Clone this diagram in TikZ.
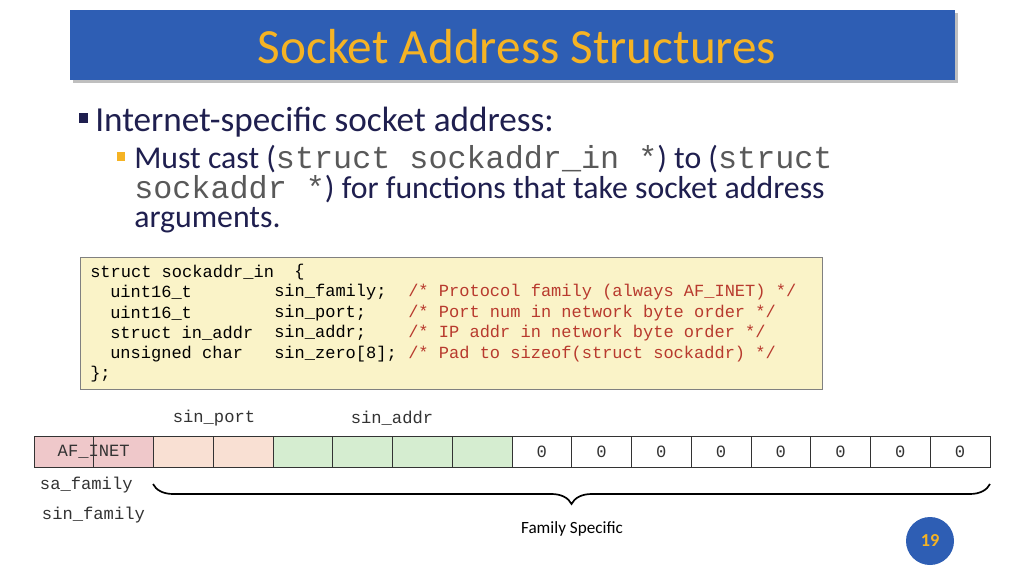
\documentclass[tikz,border=0pt]{standalone}
\usepackage{fontspec}
\setmainfont{Carlito}
\setmonofont{Liberation Mono}
\usepackage{tikz}
\usetikzlibrary{positioning, decorations.pathreplacing}
\definecolor{barblue}{HTML}{2E5EB4}
\definecolor{titleorange}{HTML}{F5B324}
\definecolor{textnavy}{HTML}{1F1F4F}
\definecolor{codebg}{HTML}{FAF3C8}
\definecolor{codered}{HTML}{B83A2E}
\definecolor{famcol}{HTML}{EFC8CA}
\definecolor{portcol}{HTML}{F9E0D3}
\definecolor{addrcol}{HTML}{D5EDD0}
\tikzset{
  cell/.style={draw=black!80, minimum width=59.75*0.025cm, minimum height=31*0.025cm, inner sep=0pt, outer sep=0pt},
  codeline/.style={anchor=west, font=\fontsize{12.1}{14}\ttfamily, inner sep=0pt},
  comment/.style={codeline, text=codered},
  lbl/.style={font=\fontsize{12.2}{14}\ttfamily, text=black!80}
}
\begin{document}
\begin{tikzpicture}[x=0.025cm, y=-0.025cm]
  \useasboundingbox[fill=white] (0,0) rectangle (1024,576);
  % title bar
  \fill[black!25] (73,13) rectangle (958,83);
  \fill[barblue] (70,10) rectangle (955,80);
  \node[text=titleorange, font=\fontsize{35}{38}\selectfont] (title) at (517,47) {Socket Address Structures};
  % bullets
  \fill[textnavy] (79,113) rectangle (88,123);
  \node[anchor=west, inner sep=0pt, text=textnavy, font=\fontsize{25}{28}\selectfont] (b1) at (95,122) {Internet-specific socket address:};
  \fill[titleorange] (117,152) rectangle (125,161);
  \node[anchor=west, inner sep=0pt, text=textnavy, font=\fontsize{22.6}{25}\selectfont] (b2) at (134,159)
    {Must cast (\textcolor{black!65}{\texttt{struct sockaddr\_in *}}) to (\textcolor{black!65}{\texttt{struct}}};
  \node[anchor=west, inner sep=0pt, text=textnavy, font=\fontsize{22.6}{25}\selectfont] (b3) at (134,189)
    {\textcolor{black!65}{\texttt{sockaddr *}}) for functions that take socket address};
  \node[anchor=west, inner sep=0pt, text=textnavy, font=\fontsize{22.6}{25}\selectfont] (b4) at (134,220) {arguments.};
  % code box
  \draw[fill=codebg, draw=black!50] (80,257) rectangle (822,389);
  \node[codeline] (c1) at (90,272) {struct sockaddr\_in};
  \node[codeline] (c1b) at (294,272) {\{};
  \foreach \y/\ty/\nm/\cm [count=\k] in {
      292/uint16\_t/sin\_family;/Protocol family (always AF\_INET),
      313/uint16\_t/sin\_port;/Port num in network byte order,
      333/struct in\_addr/sin\_addr;/IP addr in network byte order,
      354/unsigned char/sin\_zero[8];/Pad to sizeof(struct sockaddr)} {
    \node[codeline] (t\k) at (110,\y) {\ty};
    \node[codeline] (n\k) at (274,\y) {\nm};
    \node[comment] (m\k) at (408,\y) {/* \cm\ */};
  }
  \node[codeline] (c6) at (90,374) {\};};
  % byte row
  \foreach \i in {0,...,15} {
    \pgfmathsetmacro{\cx}{34+59.75*\i+29.875}
    \ifnum\i<2 \def\cc{famcol}\else\ifnum\i<4 \def\cc{portcol}\else\ifnum\i<8 \def\cc{addrcol}\else\def\cc{white}\fi\fi\fi
    \node[cell, fill=\cc] (byte\i) at (\cx,451.5) {};
    \ifnum\i>7 \node[lbl] at (byte\i) {0}; \fi
  }
  \node[lbl] (afinet) at (byte0.east) {AF\_INET};
  \node[lbl] (port) at (214,418) {sin\_port};
  \node[lbl] (addr) at (392,418) {sin\_addr};
  \node[lbl, anchor=west] (safam) at (35,485) {sa\_family};
  \node[lbl, anchor=west] (sinfam) at (37,515) {sin\_family};
  % brace
  \coordinate (bl) at (153,484);
  \coordinate (br) at (990,484);
  \draw[line width=1.2pt, decorate, decoration={brace, mirror, amplitude=0.5cm}] (bl) -- (br);
  \node[font=\fontsize{12.2}{14}\selectfont] (fs) at (572,529) {Family Specific};
  % page number
  \node[circle, fill=barblue, minimum size=48*0.025cm, text=titleorange, font=\bfseries\fontsize{13}{15}\selectfont] (pg) at (930,541) {19};
\end{tikzpicture}
\end{document}
